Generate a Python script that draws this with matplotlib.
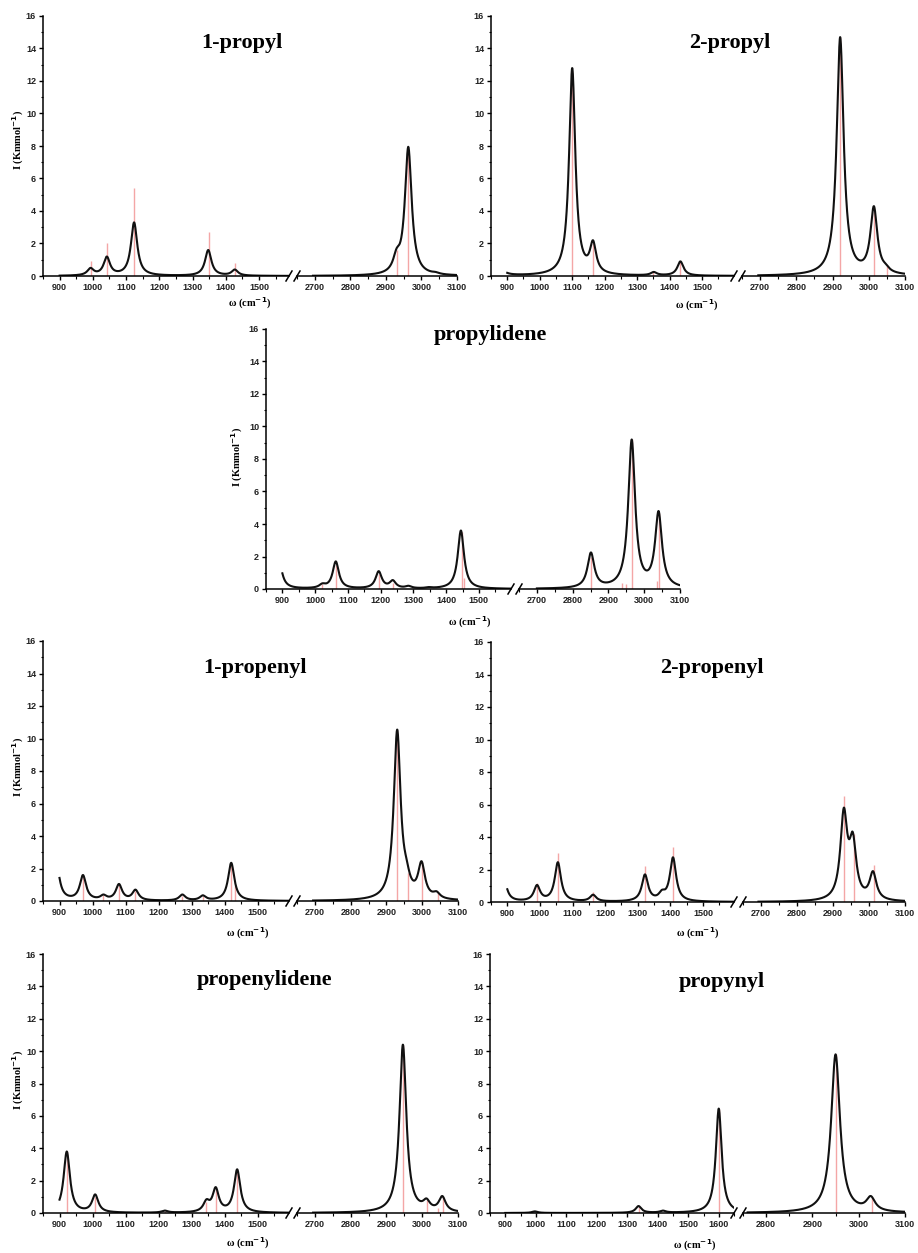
import matplotlib
matplotlib.use("Agg")
import matplotlib.pyplot as plt
from matplotlib.lines import Line2D
import numpy as np

W, H = 918, 1253

# ---- values ----
# red sticks: computed line positions (cm^-1) and intensities (Kmmol^-1)
# black curve: band centres and the height the envelope reaches there

PROPYL1_STICK_POS = [993, 1042, 1124, 1348, 1429, 2932, 2963]
PROPYL1_STICK_INT = [0.9, 2.0, 5.4, 2.7, 0.8, 1.6, 7.6]
PROPYL1_BAND_POS = [993, 1042, 1124, 1347, 1427, 2930, 2963, 3040]
PROPYL1_BAND_INT = [0.5, 1.2, 3.3, 1.6, 0.4, 1.7, 7.95, 0.25]

PROPYL2_STICK_POS = [1100, 1164, 1350, 1432, 2921, 3014, 3050]
PROPYL2_STICK_INT = [12.7, 2.0, 0.3, 0.9, 14.7, 4.2, 0.6]
PROPYL2_BAND_POS = [870, 1100, 1164, 1351, 1433, 2921, 3014, 3047]
PROPYL2_BAND_INT = [1.2, 12.8, 2.2, 0.25, 0.9, 14.7, 4.3, 0.75]

PROPYLIDENE_STICK_POS = [1022, 1063, 1194, 1237, 1447, 1455, 2851, 2938, 2948, 2965, 3035, 3040]
PROPYLIDENE_STICK_INT = [0.3, 1.5, 0.9, 0.4, 3.5, 0.7, 2.0, 0.4, 0.3, 9.2, 0.5, 4.7]
PROPYLIDENE_BAND_POS = [888, 1022, 1063, 1194, 1237, 1285, 1347, 1445, 2851, 2965, 3040]
PROPYLIDENE_BAND_INT = [2.0, 0.35, 1.7, 1.1, 0.55, 0.2, 0.12, 3.6, 2.25, 9.2, 4.8]

PROPENYL1_STICK_POS = [971, 1033, 1080, 1130, 1272, 1334, 1420, 1432, 2930, 2960, 3000, 3045]
PROPENYL1_STICK_INT = [1.5, 0.4, 1.0, 0.6, 0.3, 0.3, 2.3, 1.0, 10.5, 1.7, 2.4, 0.5]
PROPENYL1_BAND_POS = [888, 971, 1033, 1080, 1130, 1272, 1334, 1420, 2930, 2956, 2998, 3040]
PROPENYL1_BAND_INT = [2.9, 1.6, 0.4, 1.05, 0.7, 0.4, 0.35, 2.35, 10.55, 2.6, 2.45, 0.6]

PROPENYL2_STICK_POS = [991, 1055, 1163, 1322, 1408, 2930, 2957, 3013]
PROPENYL2_STICK_INT = [1.2, 3.0, 0.6, 2.2, 3.4, 6.5, 4.2, 2.3]
PROPENYL2_BAND_POS = [888, 991, 1055, 1163, 1322, 1374, 1408, 2930, 2955, 3011]
PROPENYL2_BAND_INT = [1.6, 1.05, 2.45, 0.45, 1.7, 0.75, 2.75, 5.8, 4.3, 1.9]

PROPENYLIDENE_STICK_POS = [922, 1008, 1219, 1345, 1373, 1438, 2946, 3012, 3045, 3058]
PROPENYLIDENE_STICK_INT = [3.8, 1.0, 0.15, 0.7, 1.5, 2.7, 10.4, 0.8, 0.3, 1.0]
PROPENYLIDENE_BAND_POS = [922, 1008, 1219, 1345, 1373, 1438, 2946, 3012, 3056]
PROPENYLIDENE_BAND_INT = [3.8, 1.15, 0.15, 0.85, 1.6, 2.7, 10.4, 0.9, 1.05]

PROPYNYL_STICK_POS = [1337, 1600, 2950, 3028]
PROPYNYL_STICK_INT = [0.4, 6.4, 9.8, 1.0]
PROPYNYL_BAND_POS = [997, 1337, 1417, 1600, 2950, 3026]
PROPYNYL_BAND_INT = [0.1, 0.43, 0.15, 6.45, 9.8, 1.05]

TITLES = ["1-propyl", "2-propyl", "propylidene", "1-propenyl", "2-propenyl",
          "propenylidene", "propynyl"]
Y_TICKS = [0, 2, 4, 6, 8, 10, 12, 14, 16]

HWHM = 11.5  # lorentzian half width used for the black envelope


def envelope(x, centres, heights):
    c = np.asarray(centres, float)
    h = np.asarray(heights, float)
    # amplitudes such that the summed curve hits the read heights at the band centres
    A = 1.0 / (1.0 + ((c[:, None] - c[None, :]) / HWHM) ** 2)
    amp = np.clip(np.linalg.solve(A, h), 0, None)
    return (amp[None, :] / (1.0 + ((x[:, None] - c[None, :]) / HWHM) ** 2)).sum(axis=1)


# layout in pixels: left, left-axis end, right-axis start, right, top, bottom
panels = [
    dict(title=TITLES[0], sp=PROPYL1_STICK_POS, si=PROPYL1_STICK_INT, bp=PROPYL1_BAND_POS, bi=PROPYL1_BAND_INT,
         box=(43, 289, 297, 457, 16, 276), xl=(900, 1590), xr=(2695, 3100),
         tpos=(242, 43), ylab=(18, 140), wlab=(250, 303)),
    dict(title=TITLES[1], sp=PROPYL2_STICK_POS, si=PROPYL2_STICK_INT, bp=PROPYL2_BAND_POS, bi=PROPYL2_BAND_INT,
         box=(491, 734, 742, 905, 16, 276), xl=(900, 1598), xr=(2695, 3100),
         tpos=(730, 43), ylab=None, wlab=(697, 305)),
    dict(title=TITLES[2], sp=PROPYLIDENE_STICK_POS, si=PROPYLIDENE_STICK_INT, bp=PROPYLIDENE_BAND_POS, bi=PROPYLIDENE_BAND_INT,
         box=(266, 511, 519, 680, 329, 589), xl=(900, 1598), xr=(2700, 3100),
         tpos=(490, 335), ylab=(237, 457), wlab=(470, 622)),
    dict(title=TITLES[3], sp=PROPENYL1_STICK_POS, si=PROPENYL1_STICK_INT, bp=PROPENYL1_BAND_POS, bi=PROPENYL1_BAND_INT,
         box=(43, 289, 297, 458, 641, 901), xl=(900, 1595), xr=(2695, 3100),
         tpos=(255, 668), ylab=(18, 767), wlab=(248, 933)),
    dict(title=TITLES[4], sp=PROPENYL2_STICK_POS, si=PROPENYL2_STICK_INT, bp=PROPENYL2_BAND_POS, bi=PROPENYL2_BAND_INT,
         box=(491, 734, 743, 905, 642, 902), xl=(900, 1595), xr=(2693, 3100),
         tpos=(712, 668), ylab=None, wlab=(698, 933)),
    dict(title=TITLES[5], sp=PROPENYLIDENE_STICK_POS, si=PROPENYLIDENE_STICK_INT, bp=PROPENYLIDENE_BAND_POS, bi=PROPENYLIDENE_BAND_INT,
         box=(43, 289, 297, 458, 954, 1213), xl=(900, 1595), xr=(2695, 3100),
         tpos=(265, 980), ylab=(18, 1080), wlab=(248, 1243)),
    dict(title=TITLES[6], sp=PROPYNYL_STICK_POS, si=PROPYNYL_STICK_INT, bp=PROPYNYL_BAND_POS, bi=PROPYNYL_BAND_INT,
         box=(490, 734, 743, 905, 954, 1213), xl=(900, 1650), xr=(2760, 3100),
         tpos=(722, 982), ylab=None, wlab=(695, 1245)),
]

plt.rcParams["mathtext.default"] = "bf"
SANS = "Liberation Sans"
SERIF = "Liberation Serif"

fig = plt.figure(figsize=(W / 100, H / 100), dpi=100)


def fx(px):
    return px / W


def fy(py):
    return 1 - py / H


def style_axis(ax, xlim, show_y):
    ax.set_xlim(*xlim)
    ax.set_ylim(0, 16)
    ax.set_facecolor("none")
    for s in ["top", "right"]:
        ax.spines[s].set_visible(False)
    if not show_y:
        ax.spines["left"].set_visible(False)
    for s in ax.spines.values():
        s.set_linewidth(1.1)
    lo = int(np.ceil(xlim[0] / 100.0) * 100)
    ax.set_xticks(np.arange(lo, xlim[1] + 1, 100))
    ax.set_xticks(np.arange(lo - 50, xlim[1] + 1, 50), minor=True)
    ax.set_yticks(Y_TICKS)
    ax.set_yticks(np.arange(0, 17, 1), minor=True)
    ax.tick_params(which="major", direction="out", length=3, width=1.0, pad=2,
                   labelsize=6.5)
    ax.tick_params(which="minor", direction="out", length=1.8, width=0.8)
    if not show_y:
        ax.tick_params(axis="y", which="both", left=False, labelleft=False)
    for lab in ax.get_xticklabels() + ax.get_yticklabels():
        lab.set_fontfamily(SANS)
        lab.set_fontweight("bold")
        lab.set_color("#222222")


for p in panels:
    L, B1, B2, R, T, Bt = p["box"]
    hgt = (Bt - T) / H
    axl = fig.add_axes([fx(L), fy(Bt), (B1 - L) / W, hgt])
    axr = fig.add_axes([fx(B2), fy(Bt), (R - B2) / W, hgt])
    style_axis(axl, p["xl"], True)
    style_axis(axr, p["xr"], False)

    for ax, lim in [(axl, p["xl"]), (axr, p["xr"])]:
        ax.vlines(p["sp"], 0, p["si"], colors="#f4a6a6", linewidth=1.0, zorder=1)
        x = np.linspace(lim[0], lim[1], 1200)
        ax.plot(x, envelope(x, p["bp"], p["bi"]), color="#111111", lw=1.5, zorder=2)

    # axis break marks "//"
    for bx in (B1, B2):
        fig.add_artist(Line2D([fx(bx - 3), fx(bx + 3)], [fy(Bt + 5), fy(Bt - 5)],
                              transform=fig.transFigure, color="black", lw=1.1))

    fig.text(fx(p["tpos"][0]), fy(p["tpos"][1]), p["title"], fontsize=16,
             fontweight="bold", family=SERIF, ha="center", va="center")
    if p["ylab"] is not None:
        fig.text(fx(p["ylab"][0]), fy(p["ylab"][1]), r"I (Kmmol$^{-1}$)", fontsize=7.5,
                 fontweight="bold", family=SERIF, rotation=90, ha="center", va="center")
    fig.text(fx(p["wlab"][0]), fy(p["wlab"][1]), r"ω (cm$^{-1}$)", fontsize=7.5,
             fontweight="bold", family=SERIF, ha="center", va="center")

fig.savefig("out.png", dpi=100)
